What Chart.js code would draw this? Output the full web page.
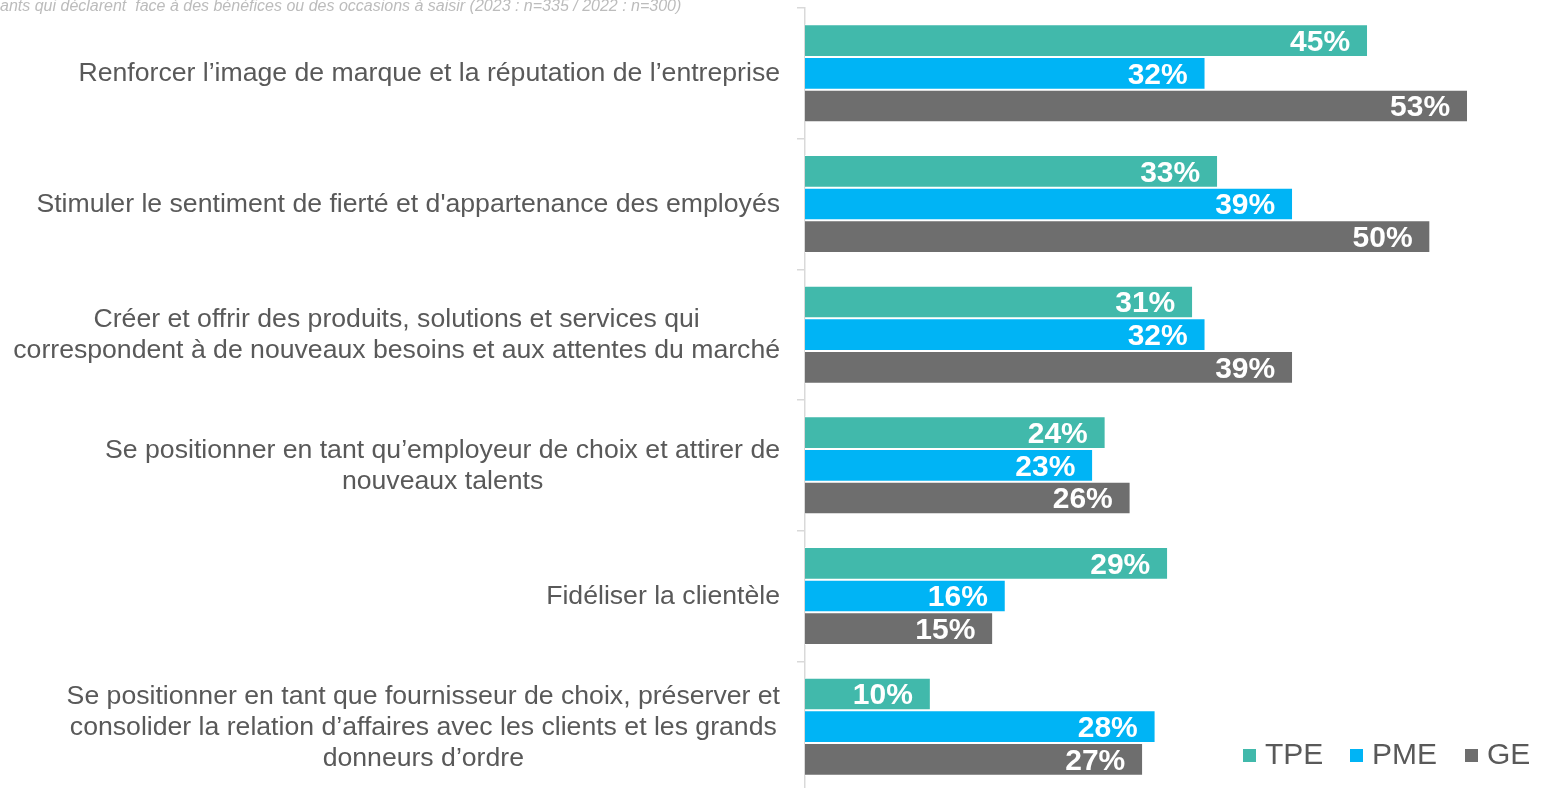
<!DOCTYPE html>
<html>
<head>
<meta charset="utf-8">
<script src="https://cdn.jsdelivr.net/npm/chart.js@4"></script>
<style>
  html, body { margin: 0; padding: 0; background: #fff; overflow: hidden; }
  #wrap { position: relative; width: 1545px; height: 792px; }
  #note { position: absolute; left: 0; top: -3px; font: italic 16px "Liberation Sans", Arial, sans-serif; color: #bcbcbc; white-space: pre; }
</style>
</head>
<body>
<div id="wrap">
  <canvas id="myChart" width="1545" height="792"></canvas>
  <div id="note">ants qui déclarent  face à des bénéfices ou des occasions à saisir (2023 : n=335 / 2022 : n=300)</div>
</div>
<script>
const categories = [
  ['Renforcer l’image de marque et la réputation de l’entreprise'],
  ['Stimuler le sentiment de fierté et d\'appartenance des employés'],
  ['Créer et offrir des produits, solutions et services qui', 'correspondent à de nouveaux besoins et aux attentes du marché'],
  ['Se positionner en tant qu’employeur de choix et attirer de', 'nouveaux talents'],
  ['Fidéliser la clientèle'],
  ['Se positionner en tant que fournisseur de choix, préserver et', 'consolider la relation d’affaires avec les clients et les grands', 'donneurs d’ordre']
];
const seriesNames = ['TPE', 'PME', 'GE'];
const tpe = [45, 33, 31, 24, 29, 10];
const pme = [32, 39, 32, 23, 16, 28];
const ge = [53, 50, 39, 26, 15, 27];
const colors = ['#41b9ab', '#00b4f5', '#6e6e6e'];

const FONT = '"Liberation Sans", Arial, sans-serif';

// category labels, centred line by line and right-aligned as a block
const labelPlugin = {
  id: 'labels',
  afterDraw(chart) {
    const ctx = chart.ctx;
    const y = chart.scales.y;
    const right = y.right - 25;
    const lh = 31;
    const sx = 1.065;
    ctx.save();
    ctx.font = '25px ' + FONT;
    ctx.fillStyle = '#595959';
    ctx.textAlign = 'center';
    ctx.textBaseline = 'middle';
    categories.forEach((lines, i) => {
      const cy = y.getPixelForValue(i) + 1;
      const w = Math.max(...lines.map(l => ctx.measureText(l).width)) * sx;
      const cx = right - w / 2;
      lines.forEach((l, j) => {
        ctx.save();
        ctx.translate(cx, cy + (j - (lines.length - 1) / 2) * lh);
        ctx.scale(sx, 1);
        ctx.fillText(l, 0, 0);
        ctx.restore();
      });
    });
    ctx.restore();
  }
};

// value labels inside the end of each bar
const valuePlugin = {
  id: 'values',
  afterDatasetsDraw(chart) {
    const ctx = chart.ctx;
    ctx.save();
    ctx.font = 'bold 30px ' + FONT;
    ctx.fillStyle = '#ffffff';
    ctx.textAlign = 'right';
    ctx.textBaseline = 'middle';
    chart.data.datasets.forEach((ds, d) => {
      chart.getDatasetMeta(d).data.forEach((bar, i) => {
        ctx.fillText(ds.data[i] + '%', bar.x - 17, bar.y + 2);
      });
    });
    ctx.restore();
  }
};

// legend in the bottom right corner
const legendPlugin = {
  id: 'legendBox',
  afterDraw(chart) {
    const ctx = chart.ctx;
    const xs = [1243, 1350, 1465];
    const cy = 755;
    ctx.save();
    ctx.font = '30px ' + FONT;
    ctx.textBaseline = 'middle';
    ctx.textAlign = 'left';
    chart.data.datasets.forEach((ds, d) => {
      ctx.fillStyle = ds.backgroundColor;
      ctx.fillRect(xs[d], cy - 6, 13, 13);
      ctx.fillStyle = '#595959';
      ctx.fillText(ds.label, xs[d] + 22, cy + 1);
    });
    ctx.restore();
  }
};

const ctx = document.getElementById('myChart');
new Chart(ctx, {
  type: 'bar',
  data: {
    labels: categories.map(c => c.join(' ')),
    datasets: [tpe, pme, ge].map((vals, k) => ({
      label: seriesNames[k],
      data: vals,
      backgroundColor: colors[k],
      borderColor: '#ffffff',
      borderWidth: { top: 1, bottom: 1, left: 0, right: 0 },
      borderSkipped: false,
      categoryPercentage: 0.75,
      barPercentage: 1
    }))
  },
  options: {
    indexAxis: 'y',
    responsive: false,
    animation: false,
    layout: { padding: { top: 8, right: 3, bottom: 0, left: 0 } },
    plugins: {
      legend: { display: false },
      tooltip: { enabled: false }
    },
    scales: {
      x: { display: false, min: 0, max: 59 },
      y: {
        afterFit(scale) { scale.width = 805; },
        grid: { offset: true, drawOnChartArea: false, tickLength: 8, color: '#d9d9d9', lineWidth: 1.5 },
        border: { display: true, color: '#d9d9d9', width: 1.5 },
        ticks: { display: false }
      }
    }
  },
  plugins: [labelPlugin, valuePlugin, legendPlugin]
});
</script>
</body>
</html>
